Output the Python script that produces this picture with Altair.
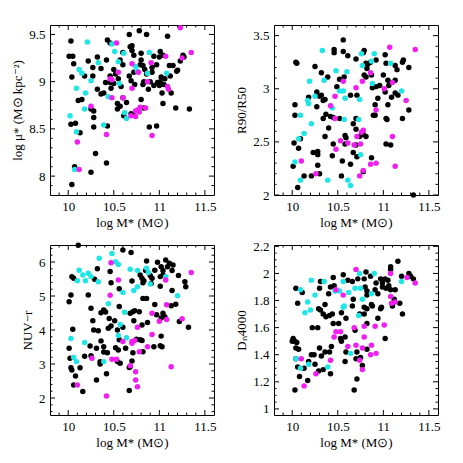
import altair as alt
import pandas as pd
import numpy as np

# ---------------- data ----------------
# Panel 1: log mu* vs log M*
p1_black = [(10.67,9.50),(10.78,9.54),(10.86,9.50),(11.09,9.48),(10.03,9.43),(10.43,9.44),(10.46,9.41),(10.68,9.37),(10.70,9.38),(10.70,9.33),(10.60,9.31),(10.01,9.27),(10.05,9.27),(10.32,9.26),(10.22,9.22),(10.42,9.23),(10.57,9.23),(10.80,9.30),(10.72,9.28),(11.01,9.32),(10.94,9.27),(11.00,9.26),(11.04,9.28),(11.26,9.28),(11.27,9.26),(11.23,9.22),(10.06,9.19),(10.18,9.06),(10.04,9.05),(10.27,9.15),(10.27,9.06),(10.36,9.14),(10.41,8.99),(10.32,8.92),(10.36,8.87),(10.46,9.06),(10.46,8.99),(10.50,9.13),(10.52,9.08),(10.55,9.03),(10.50,8.98),(10.60,9.18),(10.67,9.06),(10.69,9.01),(10.72,9.10),(10.73,8.97),(10.79,9.18),(10.80,9.23),(10.82,9.17),(10.83,9.00),(10.82,8.97),(10.86,9.08),(10.84,9.13),(10.92,9.15),(10.92,9.10),(10.88,8.92),(10.90,9.00),(10.97,9.18),(10.94,8.96),(10.98,8.99),(11.01,9.00),(11.02,9.05),(11.06,9.03),(11.05,8.97),(11.00,8.96),(11.11,9.17),(11.12,9.06),(11.15,9.17),(11.19,9.11),(11.20,9.12),(11.03,8.88),(11.13,8.88),(11.04,8.77),(11.18,8.72),(11.33,8.71),(10.54,8.77),(10.54,8.71),(10.57,8.74),(10.60,8.83),(10.25,8.71),(10.28,8.69),(10.28,8.62),(10.11,8.80),(10.15,8.81),(10.03,8.55),(10.08,8.56),(10.13,8.46),(10.28,8.52),(10.43,8.53),(10.30,8.24),(10.42,8.14),(10.25,8.04),(10.07,8.10),(10.04,7.91),(10.69,8.66),(10.71,8.65),(10.61,8.64),(10.83,8.72),(10.80,8.81),(10.89,8.52),(10.97,8.53),(10.64,8.78),(10.39,8.88),(10.47,8.93),(10.58,8.95)]
p1_cyan = [(10.21,9.42),(10.48,9.40),(10.51,9.32),(10.61,9.30),(10.33,9.20),(10.55,9.21),(10.89,9.31),(10.74,9.16),(10.76,9.11),(10.87,9.09),(11.08,9.09),(10.12,9.13),(10.15,9.09),(10.25,9.01),(10.56,8.98),(10.09,8.93),(10.19,8.88),(10.44,8.84),(10.18,8.71),(10.62,8.67),(10.64,8.61),(10.02,8.64),(10.09,8.47),(10.39,8.54),(10.07,8.07)]
p1_magenta = [(11.23,9.57),(10.53,9.41),(11.07,9.27),(11.35,9.31),(11.25,9.25),(10.46,9.03),(10.48,9.02),(10.55,9.10),(10.70,9.19),(10.70,8.93),(10.77,9.10),(10.91,9.20),(10.87,9.00),(11.09,8.95),(11.10,8.92),(10.48,8.83),(10.60,8.83),(10.25,8.74),(10.76,8.70),(10.78,8.68),(10.74,8.69),(10.79,8.73),(10.69,8.64),(10.74,8.63),(10.85,8.72),(10.92,8.43),(10.10,8.36),(10.42,8.44),(10.12,8.07)]

# Panel 2: R90/R50 vs log M*
p2_black = [(10.56,3.46),(10.46,3.37),(10.46,3.34),(10.56,3.35),(10.61,3.31),(10.79,3.36),(10.78,3.34),(11.02,3.32),(10.70,3.28),(10.81,3.24),(10.86,3.25),(10.92,3.27),(10.82,3.19),(11.03,3.24),(11.13,3.22),(11.15,3.18),(11.21,3.25),(11.22,3.27),(11.28,3.20),(10.04,3.25),(10.05,3.24),(10.25,3.21),(10.32,3.15),(10.87,3.13),(10.79,3.13),(10.81,3.11),(11.00,3.13),(10.57,3.11),(10.39,3.11),(10.52,3.09),(11.05,3.08),(11.08,3.06),(11.13,3.08),(10.96,3.03),(11.06,3.03),(10.88,3.01),(11.02,2.97),(11.13,2.96),(11.16,2.94),(11.09,2.92),(10.94,2.91),(10.64,2.94),(10.71,2.94),(10.49,3.02),(10.27,2.97),(10.30,2.93),(10.32,2.94),(10.34,2.89),(10.36,2.90),(10.18,2.92),(10.27,2.83),(10.03,2.85),(11.05,2.85),(10.91,2.85),(10.89,2.75),(10.91,2.75),(11.28,2.80),(11.21,2.72),(11.03,2.72),(11.04,2.71),(10.03,2.75),(10.34,2.72),(10.37,2.76),(10.42,2.74),(10.45,2.73),(10.52,2.72),(10.70,2.72),(10.67,2.67),(10.70,2.62),(10.40,2.63),(10.78,2.57),(10.74,2.55),(10.81,2.55),(10.58,2.56),(10.59,2.54),(10.36,2.55),(10.09,2.53),(10.02,2.49),(10.58,2.48),(10.45,2.48),(10.70,2.47),(11.03,2.48),(11.08,2.47),(10.07,2.44),(10.67,2.40),(10.23,2.40),(10.28,2.41),(10.28,2.38),(10.44,2.37),(10.71,2.36),(10.87,2.35),(10.55,2.32),(10.64,2.29),(10.28,2.28),(10.01,2.27),(10.30,2.20),(10.13,2.18),(10.21,2.18),(10.54,2.18),(10.78,2.22),(10.06,2.07),(11.33,2.00),(10.83,3.23),(10.92,3.02)]
p2_cyan = [(10.33,3.36),(10.76,3.33),(10.90,3.33),(10.87,3.26),(10.77,3.22),(11.08,3.24),(10.48,3.17),(10.60,3.16),(10.35,3.08),(10.19,3.07),(10.88,3.05),(11.20,2.98),(10.74,2.90),(10.52,2.98),(10.56,2.98),(10.58,2.91),(10.25,2.93),(10.17,2.89),(10.18,2.86),(10.44,2.82),(10.09,2.75),(10.57,2.71),(10.73,2.71),(10.21,2.67),(10.13,2.58),(10.07,2.53),(10.75,2.38),(10.03,2.31),(10.09,2.14),(10.39,2.14),(10.61,2.14),(10.64,2.09)]
p2_magenta = [(11.07,3.39),(11.35,3.37),(10.86,3.15),(10.56,3.07),(10.77,3.07),(11.10,3.06),(10.70,3.01),(11.01,3.00),(10.47,2.93),(10.42,2.84),(11.25,2.89),(10.92,2.80),(10.47,2.72),(10.78,2.61),(10.76,2.59),(10.71,2.55),(10.53,2.51),(10.61,2.49),(10.68,2.47),(10.75,2.48),(11.10,2.55),(10.48,2.43),(10.86,2.29),(10.92,2.30),(11.13,2.27),(10.10,2.32),(10.26,2.20),(10.78,2.23),(10.74,2.18)]

# Panel 3: NUV-r vs log M*
p3_black = [(10.11,6.49),(10.60,6.35),(10.69,6.28),(10.86,6.03),(10.98,5.99),(11.07,6.06),(11.02,5.86),(11.09,5.86),(11.15,5.91),(11.11,5.96),(10.32,5.80),(10.85,5.75),(10.95,5.76),(11.04,5.75),(11.14,5.75),(10.04,5.57),(10.06,5.52),(10.29,5.49),(10.47,5.39),(10.46,5.72),(10.70,5.44),(10.79,5.62),(10.81,5.52),(10.82,5.39),(10.92,5.52),(10.91,5.37),(11.01,5.57),(11.04,5.62),(11.21,5.60),(11.28,5.42),(11.29,5.27),(11.01,5.29),(10.56,5.21),(10.22,5.03),(10.03,5.03),(10.01,4.83),(10.82,4.93),(10.86,4.93),(11.14,5.16),(10.95,4.75),(11.18,4.76),(11.13,4.71),(10.56,4.69),(10.25,4.64),(10.39,4.59),(10.41,4.53),(10.36,4.51),(10.68,4.49),(10.71,4.54),(10.73,4.57),(10.78,4.54),(11.04,4.49),(11.06,4.39),(11.22,4.25),(11.32,4.08),(11.02,4.35),(10.87,4.22),(10.81,4.15),(10.72,4.27),(10.45,4.34),(10.51,4.27),(10.47,4.12),(10.27,4.27),(10.05,4.02),(10.28,4.00),(10.33,3.98),(10.44,4.05),(10.54,4.00),(10.60,4.08),(10.01,3.46),(10.36,3.68),(10.31,3.46),(10.56,3.71),(10.52,3.48),(10.55,3.41),(10.39,3.51),(10.24,3.53),(10.75,3.73),(10.79,3.71),(10.81,3.69),(10.82,3.36),(10.63,3.46),(10.94,3.51),(11.01,3.54),(11.03,3.51),(11.02,3.82),(10.71,3.33),(10.39,3.35),(10.43,3.33),(10.25,3.24),(10.18,3.23),(10.35,3.07),(10.35,3.00),(10.54,3.07),(10.57,3.02),(10.70,3.09),(10.68,2.92),(10.67,2.90),(10.02,3.17),(10.03,2.89),(10.04,2.82),(10.08,2.65),(10.13,2.89),(10.31,2.53),(10.42,2.71),(10.06,2.38),(10.16,2.19),(10.67,2.22),(10.90,5.60),(10.97,4.45),(10.83,5.45)]
p3_cyan = [(10.48,6.25),(10.34,6.11),(10.52,6.01),(10.55,5.93),(10.68,5.79),(10.76,5.75),(10.86,5.82),(10.88,5.69),(10.12,5.76),(10.22,5.67),(10.16,5.62),(10.25,5.57),(10.10,5.45),(10.19,5.45),(10.33,5.42),(10.90,5.35),(11.07,5.57),(10.76,5.27),(10.72,5.16),(10.60,5.10),(11.20,5.01),(10.44,4.77),(10.62,4.52),(10.57,4.16),(10.03,3.75),(10.18,3.63),(10.55,3.84),(10.64,3.77),(10.06,3.19),(10.09,3.07),(10.39,3.07)]
p3_magenta = [(10.47,5.98),(11.35,5.69),(10.55,5.47),(11.07,5.47),(10.46,5.02),(11.08,4.74),(10.92,4.49),(11.00,4.26),(11.08,4.31),(11.25,4.33),(10.76,4.08),(10.60,3.66),(10.70,3.66),(10.73,3.69),(10.70,3.61),(10.78,3.36),(10.87,3.51),(10.92,3.87),(11.13,2.92),(10.26,3.17),(10.48,3.14),(10.53,3.14),(10.68,2.95),(10.74,2.77),(10.74,2.53),(10.76,2.33),(10.10,2.38),(10.42,2.06)]

# Panel 4: Dn4000 vs log M*
p4_black = [(11.16,2.09),(11.08,2.05),(11.08,2.03),(10.81,2.01),(11.28,2.00),(11.30,1.98),(11.20,1.98),(10.86,1.98),(10.97,1.96),(11.02,1.96),(11.05,1.95),(11.33,1.96),(10.99,1.93),(10.45,1.97),(10.31,1.94),(10.56,1.99),(10.61,1.95),(10.72,1.96),(10.66,1.94),(10.79,1.96),(10.92,1.93),(10.99,1.90),(11.03,1.89),(11.06,1.91),(11.08,1.88),(11.13,1.88),(10.04,1.89),(10.11,1.86),(10.30,1.89),(10.42,1.90),(10.46,1.91),(10.40,1.85),(10.80,1.90),(10.82,1.87),(10.82,1.84),(10.91,1.88),(10.94,1.85),(11.12,1.81),(11.18,1.78),(11.10,1.76),(10.67,1.81),(10.06,1.78),(10.29,1.74),(10.36,1.77),(10.31,1.73),(10.34,1.70),(10.37,1.68),(10.41,1.69),(10.44,1.70),(10.54,1.71),(10.66,1.76),(10.74,1.70),(10.79,1.75),(10.82,1.74),(10.87,1.77),(10.88,1.76),(10.97,1.74),(10.98,1.75),(10.94,1.67),(10.79,1.70),(11.21,1.70),(10.45,1.63),(10.51,1.63),(10.59,1.67),(10.22,1.60),(10.28,1.60),(10.69,1.58),(10.82,1.63),(10.53,1.52),(10.01,1.52),(10.03,1.50),(10.00,1.50),(10.04,1.45),(10.05,1.49),(11.02,1.52),(10.54,1.50),(10.58,1.53),(10.30,1.45),(10.43,1.46),(10.71,1.42),(10.82,1.44),(10.07,1.44),(10.36,1.42),(10.41,1.42),(10.24,1.40),(10.21,1.40),(10.59,1.42),(10.04,1.37),(10.32,1.39),(10.70,1.37),(10.75,1.38),(10.18,1.35),(10.58,1.35),(10.06,1.31),(10.13,1.30),(10.25,1.33),(10.29,1.28),(10.34,1.29),(10.77,1.32),(10.42,1.26),(10.08,1.24),(10.17,1.21),(10.71,1.22),(10.03,1.14),(10.68,1.14)]
p4_cyan = [(10.74,2.00),(10.90,2.00),(11.20,1.94),(10.21,1.95),(10.35,1.94),(10.56,1.94),(10.09,1.88),(10.25,1.84),(10.52,1.87),(10.47,1.87),(10.62,1.86),(10.69,1.89),(10.75,1.89),(10.87,1.85),(10.77,1.81),(10.17,1.79),(10.14,1.71),(10.20,1.73),(10.57,1.76),(10.56,1.75),(10.73,1.69),(10.64,1.41),(10.04,1.37),(10.09,1.30),(10.18,1.33),(10.39,1.31)]
p4_magenta = [(10.70,2.03),(11.08,2.00),(11.26,1.97),(11.35,1.93),(10.48,1.88),(10.56,1.84),(11.08,1.83),(11.13,1.79),(11.09,1.78),(10.68,1.60),(10.79,1.61),(10.91,1.61),(11.01,1.62),(10.48,1.57),(10.53,1.57),(10.46,1.53),(10.79,1.53),(10.61,1.46),(10.70,1.47),(10.77,1.45),(10.87,1.47),(10.86,1.40),(10.92,1.41),(10.10,1.37),(10.74,1.36),(10.42,1.36),(10.77,1.29),(10.26,1.26),(10.13,1.17)]

# ticks
x_major = [10, 10.5, 11, 11.5]
x_minor = [round(v, 2) for v in np.arange(9.9, 11.6, 0.1)]
p1_ymajor = [8, 8.5, 9, 9.5]
p1_yminor = [round(v, 2) for v in np.arange(7.9, 9.6, 0.1)]
p2_ymajor = [2, 2.5, 3, 3.5]
p2_yminor = [round(v, 2) for v in np.arange(2.1, 3.6, 0.1)]
p3_ymajor = [2, 3, 4, 5, 6]
p3_yminor = [round(v, 2) for v in np.arange(1.6, 6.5, 0.2)]
p4_ymajor = [1, 1.2, 1.4, 1.6, 1.8, 2, 2.2]
p4_yminor = [round(v, 2) for v in np.arange(1.0, 2.21, 0.05)]

XDOM = [9.8, 11.6]
W, H = 164, 170
FONT = "Liberation Serif"
COLORS = ["#000000", "#1ee6e6", "#f01ef0"]
XTITLE = "log M* (M\u2299)"


def frame_df(black, cyan, magenta):
    rows = []
    for grp, pts in (("k", black), ("c", cyan), ("m", magenta)):
        for x, y in pts:
            rows.append({"x": x, "y": y, "g": grp})
    return pd.DataFrame(rows)


def panel(black, cyan, magenta, ydom, ymaj, ymin, ytitle):
    xs = alt.Scale(domain=XDOM, nice=False, zero=False)
    ys = alt.Scale(domain=ydom, nice=False, zero=False)
    xaxis = alt.Axis(values=x_major, format="~g", title=XTITLE, domain=False, ticks=False,
                     grid=False, labelFont=FONT, labelFontSize=13, labelColor="black",
                     titleFont=FONT, titleFontSize=13, titleFontWeight="normal", titleColor="black",
                     labelPadding=5, titlePadding=3, labelOverlap=False, labelFlush=False)
    yaxis = alt.Axis(values=ymaj, format="~g", title=ytitle, domain=False, ticks=False,
                     grid=False, labelFont=FONT, labelFontSize=13, labelColor="black",
                     titleFont=FONT, titleFontSize=13, titleFontWeight="normal", titleColor="black",
                     labelPadding=5, titlePadding=4, labelOverlap=False, labelFlush=False)
    df = frame_df(black, cyan, magenta)
    pts = alt.Chart(df).mark_circle(size=30, opacity=1).encode(
        x=alt.X("x:Q", scale=xs, axis=xaxis),
        y=alt.Y("y:Q", scale=ys, axis=yaxis),
        color=alt.Color("g:N", scale=alt.Scale(domain=["k", "c", "m"], range=COLORS), legend=None),
        order=alt.Order("o:Q"),
    ).transform_calculate(o="datum.g == 'k' ? 0 : (datum.g == 'c' ? 1 : 2)")

    layers = [pts]
    for vals, L in ((x_major, 5), ([v for v in x_minor if v not in x_major], 2.5)):
        d = pd.DataFrame({"v": vals})
        for y0, y1 in ((H, H - L), (0, L)):
            layers.append(alt.Chart(d).mark_rule(color="black", strokeWidth=1).encode(
                x=alt.X("v:Q", scale=xs, axis=xaxis), y=alt.value(y0), y2=alt.value(y1)))
    for vals, L in ((ymaj, 5), ([v for v in ymin if v not in ymaj], 2.5)):
        d = pd.DataFrame({"v": vals})
        for x0, x1 in ((0, L), (W, W - L)):
            layers.append(alt.Chart(d).mark_rule(color="black", strokeWidth=1).encode(
                y=alt.Y("v:Q", scale=ys, axis=yaxis), x=alt.value(x0), x2=alt.value(x1)))
    return alt.layer(*layers).properties(width=W, height=H)


c1 = panel(p1_black, p1_cyan, p1_magenta, [7.8, 9.6], p1_ymajor, p1_yminor,
           "log \u03bc* (M\u2299 kpc\u207b\u00b2)")
c2 = panel(p2_black, p2_cyan, p2_magenta, [2.0, 3.6], p2_ymajor, p2_yminor, "R90/R50")
c3 = panel(p3_black, p3_cyan, p3_magenta, [1.5, 6.5], p3_ymajor, p3_yminor, "NUV\u2212r")
c4 = panel(p4_black, p4_cyan, p4_magenta, [0.955, 2.21], p4_ymajor, p4_yminor, "D\u20994000")

chart = alt.concat(c1, c2, c3, c4, columns=2, bounds="flush",
                   spacing={"row": 50, "column": 60}).properties(
    padding={"left": 3, "top": 16, "right": 5, "bottom": 5}
).configure_view(stroke="black", strokeWidth=1)

chart.save("out.html", embed_options={"renderer": "svg", "actions": False})
